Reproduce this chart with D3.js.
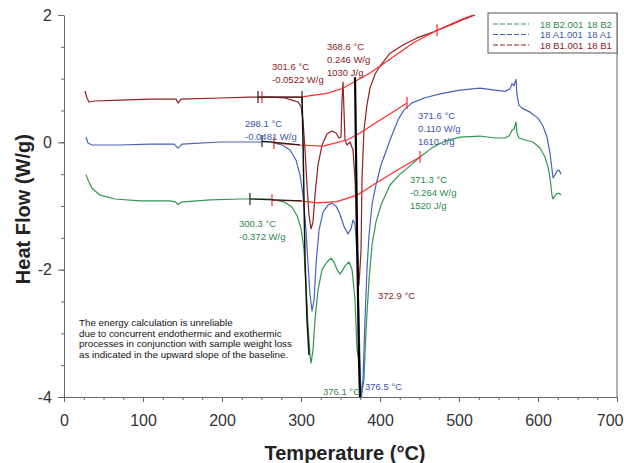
<!DOCTYPE html>
<html>
<head>
<meta charset="utf-8">
<script src="https://cdn.jsdelivr.net/npm/d3@7"></script>
<style>
body { margin: 0; background: #fff; }
svg { font-family: "Liberation Sans", Arial, sans-serif; }
</style>
</head>
<body>
<svg id="chart" width="624" height="463"></svg>
<script>
/* Data: [temperature (°C), heat flow (W/g)] */

var b1 = [[26.6,0.806],[29.1,0.696],[31.6,0.633],[39.2,0.649],[70.9,0.664],[108.9,0.68],[141.8,0.68],[144.3,0.617],[148.1,0.68],
	[197.5,0.696],[235.4,0.711],[260.8,0.711],[279.7,0.696],[288.6,0.664],[296.2,0.633],[300,0.57],[302.5,0.35],[305.1,-0.123],
	[307.6,-0.673],[310.1,-1.14],[312.7,-1.36],[315.2,-1.25],[317.7,-0.83],[321.5,-0.357],[326.6,-0.042],[332.9,0.13],[339.2,0.178],
	[344.3,0.146],[348.1,0.068],[350.6,0.083],[351.9,0.664],[353.2,0.947],[354.4,0.507],[355.7,0.036],[358.2,-0.042],[362,0.005],
	[365.8,-0.12],[368.4,-0.59],[370.9,-1.53],[373.4,-2.24],[376,-1.69],[377.2,-0.59],[379.7,0.19],[383.5,0.585],[387.3,0.852],
	[393.7,1.07],[400,1.198],[412.7,1.4],[429.1,1.53],[446.8,1.64],[467.1,1.73],[488.6,1.84],[507.6,1.94],[520.3,2.0]];

var a1 = [[27.8,0.083],[30.4,-0.011],[35.4,-0.042],[70.9,-0.042],[108.9,-0.027],[139.2,-0.027],[144.3,-0.09],[149.4,-0.027],
	[197.5,0.005],[235.4,0.005],[260.8,0.005],[276,-0.042],[286.1,-0.12],[293.7,-0.278],[298.7,-0.51],[302.5,-0.83],[306.3,-1.38],
	[308.9,-1.92],[311.4,-2.39],[313.9,-2.65],[316.5,-2.48],[319,-1.92],[322.8,-1.38],[327.8,-1.1],[334.2,-0.985],[339.2,-0.955],
	[344.3,-1.0],[349.4,-1.13],[354.4,-1.32],[359.5,-1.44],[363.3,-1.36],[365.8,-1.22],[368.4,-1.28],[370.9,-1.77],[373.4,-2.79],
	[375.3,-3.73],[376.5,-4.0],[378.5,-3.73],[381,-2.79],[383.5,-2.0],[386.1,-1.46],[389.9,-0.98],[394.9,-0.67],[401.3,-0.355],
	[412.7,0.036],[422.8,0.35],[430.4,0.51],[440.5,0.62],[457,0.7],[476,0.76],[501.3,0.82],[526.6,0.85],[545.6,0.82],[558.2,0.8],
	[564.6,0.84],[567.1,0.92],[569.6,0.89],[572.2,0.99],[573.4,0.74],[575.9,0.585],[579.7,0.537],[589.9,0.474],[600,0.38],
	[606.3,0.256],[611.4,0.083],[615.2,-0.168],[619,-0.56],[621.5,-0.51],[624.1,-0.45],[626.6,-0.435],[629.1,-0.5]];

var b2 = [[27.8,-0.51],[30.4,-0.59],[35.4,-0.72],[45.6,-0.83],[64.6,-0.89],[96.2,-0.92],[134.2,-0.92],[141.8,-0.94],[144.3,-0.98],
	[148.1,-0.94],[184.8,-0.905],[222.8,-0.89],[260.8,-0.89],[279.7,-0.94],[288.6,-1.02],[294.9,-1.15],[300,-1.35],[303.8,-1.69],
	[306.3,-2.24],[308.9,-2.87],[311.4,-3.34],[312.7,-3.47],[315.2,-3.26],[317.7,-2.79],[321.5,-2.32],[326.6,-2.0],[332.9,-1.88],
	[338,-1.82],[341.8,-1.88],[345.6,-2.0],[349.4,-2.07],[353.2,-2.0],[355.7,-1.94],[360.8,-1.88],[364.6,-2.0],[368.4,-2.48],
	[370.9,-3.26],[373.4,-3.42],[375.9,-4.0],[379.7,-3.73],[382.3,-2.95],[386.1,-2.16],[389.9,-1.61],[394.9,-1.25],[401.3,-0.98],
	[412.7,-0.67],[425.3,-0.5],[438,-0.37],[450.6,-0.23],[467.1,-0.075],[482.3,0.02],[501.3,0.083],[526.6,0.099],[545.6,0.068],
	[558.2,0.068],[563.3,0.099],[567.1,0.19],[569.6,0.21],[572.2,0.32],[573.4,0.146],[575.9,0.068],[583.5,0.036],[593.7,0.005],
	[602.5,-0.09],[608.9,-0.23],[612.7,-0.39],[615.2,-0.56],[617.7,-0.83],[619,-0.89],[621.5,-0.84],[624.1,-0.8],[626.6,-0.8],[629.1,-0.83]];

/* Integration baselines (bright red) */
var baseB1 = [[250.6,0.71],[298.7,0.71],[332.9,0.77],[353.2,0.85],[387.3,1.09],[416.5,1.34],[441.8,1.56],[472.2,1.76],[501.3,1.92],[517.7,2.0]];
var baseA1 = [[265.8,-0.011],[298.7,-0.042],[327.8,-0.058],[358.2,0.036],[374.7,0.146],[396.2,0.319],[416.5,0.476],[434.2,0.617]];
var baseB2 = [[263.3,-0.91],[298.7,-0.92],[320.3,-0.95],[345.6,-0.93],[370.9,-0.83],[396.2,-0.63],[421.5,-0.44],[450.6,-0.23]];
var redTicks = [[250.6,0.71],[472.2,1.76],[265.8,-0.011],[434.2,0.617],[263.3,-0.91],[450.6,-0.23]];

/* Onset tangents and peak limits (black) */
var tanB1 = [[245.6,0.711],[301.3,0.711]];
var tanA1 = [[250.6,0.02],[298.7,-0.04]];
var tanB2 = [[235.4,-0.89],[300.5,-0.92]];
var blackTicks = [[245.6,0.711],[301.3,0.711],[250.6,0.02],[235.4,-0.89]];
var limitLeft = [[301.3,0.71],[302.5,0.036],[303.8,-0.9],[305.1,-1.85],[307.6,-2.79],[310.1,-3.34]];
var limitRight = [[368.4,1.024],[369.6,-0.12],[370.9,-1.38],[372.2,-2.48],[373.4,-3.42],[374.7,-4.0]];

/* Annotations: lines, colour key, anchor [T, v] of first baseline */
var notes = [
	{lines: ["301.6 °C", "-0.0522 W/g"], c: "b1", at: [263.3, 1.136]},
	{lines: ["368.6 °C", "0.246 W/g", "1030 J/g"], c: "b1", at: [332.9, 1.457]},
	{lines: ["298.1 °C", "-0.0481 W/g"], c: "a1", at: [229.1, 0.248]},
	{lines: ["371.6 °C", "0.110 W/g", "1610 J/g"], c: "a1", at: [448.1, 0.374]},
	{lines: ["371.3 °C", "-0.264 W/g", "1520 J/g"], c: "b2", at: [438, -0.631]},
	{lines: ["300.3 °C", "-0.372 W/g"], c: "b2", at: [221.5, -1.322]},
	{lines: ["372.9 °C"], c: "b1", at: [397.5, -2.453]},
	{lines: ["376.1 °C"], c: "b2", at: [327.8, -3.975]},
	{lines: ["376.5 °C"], c: "a1", at: [381, -3.897]}
];

var warning = ["The energy calculation is unreliable",
	"due to concurrent endothermic and exothermic",
	"processes in conjunction with sample weight loss",
	"as indicated in the upward slope of the baseline."];

var legendKeys = ["b2", "a1", "b1"];
var legendNames = {b2: ["18 B2.001", "18 B2"], a1: ["18 A1.001", "18 A1"], b1: ["18 B1.001", "18 B1"]};

var xTicks = [0, 100, 200, 300, 400, 500, 600, 700];
var yTicks = [-4, -2, 0, 2];

var colors = {b1: "#8e2020", a1: "#4863b6", b2: "#2f9650", red: "#ff2b2b"};
var textColors = {b1: "#8b1a1a", a1: "#3b56ad", b2: "#2b8a4a"};

/* Scales */

var svg = d3.select("#chart");

var x = d3.scaleLinear().domain([0, 700]).range([64, 617]);
var y = d3.scaleLinear().domain([-4, 2]).range([397, 15]);

var line = d3.line()
	.x(function(d){ return x(d[0]); })
	.y(function(d){ return y(d[1]); });

var plain = function(d){ return String(d); };

/* Axes */

svg.append("g")
	.attr("transform", "translate(0," + y(-4) + ")")
	.call(d3.axisBottom(x).tickValues(d3.range(0, 701, 25)).tickSize(3).tickFormat(""))
	.call(function(g){ g.select(".domain").remove(); g.selectAll("line").attr("stroke", "#666"); });

svg.append("g")
	.attr("class", "axis axis--x")
	.attr("transform", "translate(0," + y(-4) + ")")
	.call(d3.axisBottom(x).tickValues(xTicks).tickFormat(plain).tickSize(5).tickPadding(13).tickSizeOuter(0));

svg.append("g")
	.attr("transform", "translate(" + x(0) + ",0)")
	.call(d3.axisLeft(y).tickValues(d3.range(-4, 2.01, 0.5)).tickSize(3).tickFormat(""))
	.call(function(g){ g.select(".domain").remove(); g.selectAll("line").attr("stroke", "#666"); });

svg.append("g")
	.attr("class", "axis axis--y")
	.attr("transform", "translate(" + x(0) + ",0)")
	.call(d3.axisLeft(y).tickValues(yTicks).tickFormat(plain).tickSize(6).tickPadding(6).tickSizeOuter(0));

svg.selectAll(".axis path, .axis line").attr("stroke", "#666");
svg.selectAll(".axis text").attr("font-size", 16).attr("fill", "#333")
	.attr("font-family", "Liberation Sans, Arial, sans-serif");

// last x label sits flush with the right edge
svg.selectAll(".axis--x .tick text")
	.filter(function(d){ return d === 700; })
	.attr("text-anchor", "end")
	.attr("dx", 6);

svg.append("line")
	.attr("x1", x(700)).attr("x2", x(700))
	.attr("y1", 13).attr("y2", y(-4))
	.attr("stroke", "#666");

svg.append("text")
	.attr("x", 345).attr("y", 460)
	.attr("text-anchor", "middle")
	.attr("font-size", 20).attr("font-weight", "bold").attr("fill", "#222")
	.text("Temperature (°C)");

svg.append("text")
	.attr("transform", "translate(30," + y(-1.05) + ") rotate(-90)")
	.attr("text-anchor", "middle")
	.attr("font-size", 20).attr("font-weight", "bold").attr("fill", "#222")
	.text("Heat Flow (W/g)");

/* Curves */

var plot = svg.append("g");

[["b2", b2], ["a1", a1], ["b1", b1]].forEach(function(s){
	plot.append("path")
		.datum(s[1])
		.attr("fill", "none")
		.attr("stroke", colors[s[0]])
		.attr("stroke-width", 1.2)
		.attr("stroke-linejoin", "round")
		.attr("d", line);
});

[baseB1, baseA1, baseB2].forEach(function(b){
	plot.append("path")
		.datum(b)
		.attr("fill", "none")
		.attr("stroke", colors.red)
		.attr("stroke-width", 1.2)
		.attr("d", line);
});

plot.selectAll(".red-tick")
	.data(redTicks)
	.enter().append("line")
	.attr("class", "red-tick")
	.attr("x1", function(d){ return x(d[0]); })
	.attr("x2", function(d){ return x(d[0]); })
	.attr("y1", function(d){ return y(d[1]) - 6; })
	.attr("y2", function(d){ return y(d[1]) + 6; })
	.attr("stroke", colors.red)
	.attr("stroke-width", 1.2);

[tanB1, tanA1, tanB2].forEach(function(t){
	plot.append("path")
		.datum(t)
		.attr("fill", "none")
		.attr("stroke", "#222")
		.attr("stroke-width", 1.2)
		.attr("d", line);
});

plot.selectAll(".black-tick")
	.data(blackTicks)
	.enter().append("line")
	.attr("class", "black-tick")
	.attr("x1", function(d){ return x(d[0]); })
	.attr("x2", function(d){ return x(d[0]); })
	.attr("y1", function(d){ return y(d[1]) - 6; })
	.attr("y2", function(d){ return y(d[1]) + 6; })
	.attr("stroke", "#222")
	.attr("stroke-width", 1.2);

plot.append("path")
	.datum(limitLeft)
	.attr("fill", "none")
	.attr("stroke", "#111")
	.attr("stroke-width", 1.5)
	.attr("d", line);

plot.append("path")
	.datum(limitRight)
	.attr("fill", "none")
	.attr("stroke", "#000")
	.attr("stroke-width", 2.2)
	.attr("d", line);

/* Annotations */

notes.forEach(function(n){
	var t = svg.append("text")
		.attr("x", x(n.at[0]))
		.attr("y", y(n.at[1]))
		.attr("font-size", 9.5)
		.attr("fill", textColors[n.c]);
	t.selectAll("tspan")
		.data(n.lines)
		.enter().append("tspan")
		.attr("x", x(n.at[0]))
		.attr("dy", function(d, i){ return i === 0 ? 0 : 13; })
		.text(function(d){ return d; });
});

svg.append("text")
	.attr("font-size", 9.8)
	.attr("fill", "#111")
	.selectAll("tspan")
	.data(warning)
	.enter().append("tspan")
	.attr("x", 79)
	.attr("y", function(d, i){ return 326 + i * 10.6; })
	.text(function(d){ return d; });

/* Legend */

var legend = svg.append("g");

legend.append("rect")
	.attr("x", 488).attr("y", 13)
	.attr("width", x(700) - 488).attr("height", 40)
	.attr("fill", "#fff")
	.attr("stroke", "#555");

legendKeys.forEach(function(k, i){
	var ly = 24 + i * 10.5;
	legend.append("line")
		.attr("x1", 493).attr("x2", 529)
		.attr("y1", ly).attr("y2", ly)
		.attr("stroke", colors[k])
		.attr("stroke-width", 1.2)
		.attr("stroke-dasharray", "5,2");
	legend.append("text")
		.attr("x", 540).attr("y", ly + 3.5)
		.attr("font-size", 9.5).attr("fill", textColors[k])
		.text(legendNames[k][0]);
	legend.append("text")
		.attr("x", 587).attr("y", ly + 3.5)
		.attr("font-size", 9.5).attr("fill", textColors[k])
		.text(legendNames[k][1]);
});
</script>
</body>
</html>
